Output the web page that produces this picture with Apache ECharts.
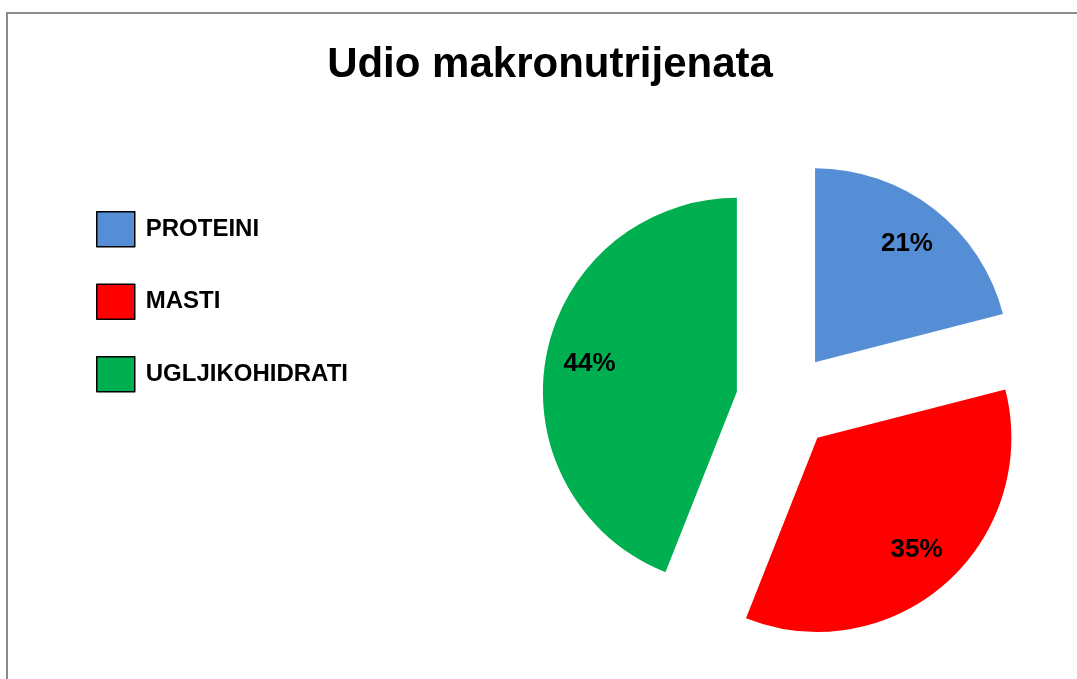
<!DOCTYPE html>
<html>
<head>
<meta charset="utf-8">
<script src="https://cdn.jsdelivr.net/npm/echarts@6/dist/echarts.min.js"></script>
<style>
    html, body { margin: 0; padding: 0; background: #fff; }
    #box { width: 1077px; height: 679px; }
</style>
</head>
<body>
<div id="box"></div>
<script>
// podaci
var categories = ['PROTEINI', 'MASTI', 'UGLJIKOHIDRATI'];
var values = [21, 35, 44];
var colors = ['#558ED5', '#FF0000', '#00B050'];

var pieData = categories.map(function (name, i) {
    return { name: name, value: values[i], selected: true, itemStyle: { color: colors[i] } };
});

var myChart = echarts.init(document.getElementById('box'));
var option = {
    backgroundColor: '#fff',
    animation: false,
    textStyle: { fontFamily: 'Liberation Sans, Arial, sans-serif' },
    title: {
        text: 'Udio makronutrijenata',
        left: 550,
        textAlign: 'center',
        top: 44,
        padding: 0,
        textStyle: { fontSize: 42, fontWeight: 'bold', color: '#000' }
    },
    legend: {
        orient: 'vertical',
        left: 96,
        top: 211,
        padding: 0,
        itemWidth: 38,
        itemHeight: 35,
        itemGap: 36,
        icon: 'rect',
        selectedMode: false,
        data: categories,
        itemStyle: { borderColor: '#000', borderWidth: 1.5 },
        textStyle: { fontSize: 24, fontWeight: 'bold', color: '#000', padding: [0, 0, 0, 6] }
    },
    graphic: [{
        type: 'rect',
        shape: { x: 7, y: 13, width: 1200, height: 800 },
        style: { fill: 'none', stroke: '#8c8c8c', lineWidth: 2 },
        silent: true
    }],
    series: [{
        name: 'makronutrijenti',
        type: 'pie',
        center: [785, 401],
        radius: 194,
        startAngle: 90,
        clockwise: true,
        selectedMode: 'multiple',
        selectedOffset: 49,
        label: { show: false },
        labelLine: { show: false },
        emphasis: { disabled: true },
        data: pieData
    }, {
        // samo oznake postotaka
        name: 'oznake',
        type: 'pie',
        center: [785, 401],
        radius: [100, 194],
        startAngle: 90,
        clockwise: true,
        silent: true,
        selectedMode: 'multiple',
        selectedOffset: 49,
        itemStyle: { color: 'rgba(0,0,0,0)' },
        label: {
            show: true,
            position: 'inside',
            formatter: '{c}%',
            fontSize: 26,
            fontWeight: 'bold',
            color: '#000'
        },
        labelLine: { show: false },
        emphasis: { disabled: true },
        data: categories.map(function (name, i) {
            return { name: name, value: values[i], selected: true };
        })
    }]
};
myChart.setOption(option);
</script>
</body>
</html>
